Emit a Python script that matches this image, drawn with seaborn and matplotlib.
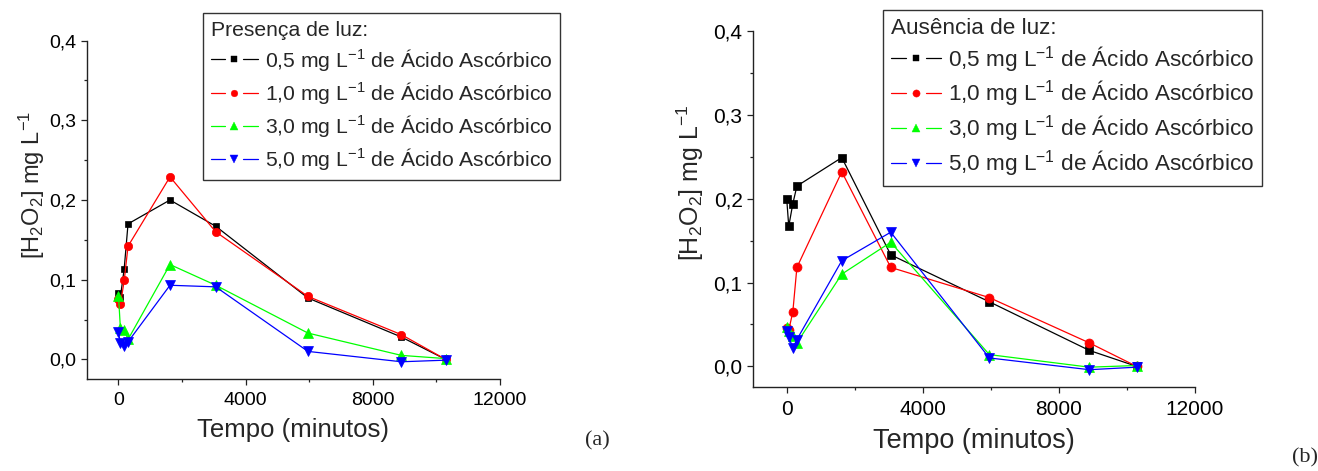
import matplotlib
matplotlib.use("Agg")
import matplotlib.pyplot as plt
import seaborn as sns
import numpy as np
from matplotlib.lines import Line2D
from matplotlib.legend_handler import HandlerLine2D
from matplotlib.ticker import FuncFormatter, MultipleLocator

# ---------------- data ----------------
tempo = [0, 60, 180, 300, 1620, 3060, 5960, 8900, 10290]

labels = [
    "0,5 mg L$^{-1}$ de Ácido Ascórbico",
    "1,0 mg L$^{-1}$ de Ácido Ascórbico",
    "3,0 mg L$^{-1}$ de Ácido Ascórbico",
    "5,0 mg L$^{-1}$ de Ácido Ascórbico",
]

luz_05 = [0.083, 0.078, 0.114, 0.170, 0.200, 0.167, 0.077, 0.028, 0.000]
luz_10 = [0.076, 0.069, 0.099, 0.142, 0.229, 0.160, 0.079, 0.031, 0.000]
luz_30 = [0.080, 0.039, 0.037, 0.025, 0.119, 0.093, 0.033, 0.005, 0.001]
luz_50 = [0.034, 0.020, 0.017, 0.022, 0.093, 0.091, 0.010, -0.003, -0.001]

escuro_05 = [0.200, 0.167, 0.194, 0.215, 0.249, 0.133, 0.077, 0.019, 0.000]
escuro_10 = [0.046, 0.043, 0.065, 0.118, 0.232, 0.118, 0.082, 0.028, 0.000]
escuro_30 = [0.047, 0.042, 0.036, 0.028, 0.110, 0.148, 0.014, -0.001, 0.001]
escuro_50 = [0.042, 0.035, 0.022, 0.032, 0.126, 0.160, 0.010, -0.004, -0.001]

titulo_a = "Presença de luz:"
titulo_b = "Ausência de luz:"

cores = ["#000000", "#FF0000", "#00FF00", "#0000FF"]
marcadores = ["s", "o", "^", "v"]
tam_marc = [5.0, 6.0, 6.5, 6.5]

# ---------------- style ----------------
sns.set_theme(style="ticks")
plt.rcParams["font.family"] = ["Liberation Sans", "DejaVu Sans"]
plt.rcParams["mathtext.fontset"] = "custom"
plt.rcParams["mathtext.rm"] = "Liberation Sans"
plt.rcParams["mathtext.it"] = "Liberation Sans:italic"
plt.rcParams["mathtext.bf"] = "Liberation Sans:bold"
plt.rcParams["axes.unicode_minus"] = False

W, H = 1318, 471
fig = plt.figure(figsize=(W / 100, H / 100), dpi=100)


def px_axes(x0, y0, x1, y1):
    return fig.add_axes([x0 / W, 1 - y1 / H, (x1 - x0) / W, (y1 - y0) / H])


class GapLineHandler(HandlerLine2D):
    def create_artists(self, legend, orig_handle, xdescent, ydescent,
                       width, height, fontsize, trans):
        yc = (height - ydescent) / 2.0
        x0 = -xdescent
        x1 = -xdescent + width
        xm = 0.5 * (x0 + x1)
        gap = 0.19 * width
        col = orig_handle.get_color()
        a = Line2D([x0, xm - gap], [yc, yc], color=col, lw=0.9)
        b = Line2D([xm + gap, x1], [yc, yc], color=col, lw=0.9)
        m = Line2D([xm], [yc], color=col, marker=orig_handle.get_marker(),
                   markersize=orig_handle.get_markersize() * 0.8,
                   markeredgecolor=col, markeredgewidth=0.3, linestyle="none")
        for art in (a, b, m):
            art.set_transform(trans)
        return [a, b, m]


def draw_panel(ax, series, titulo, scale, leg_xy, ylabel_xy, fs_tick, fs_lab,
               fs_ylab, fs_leg, xlabpad, lspace):
    handles = []
    for vals, lab, c, mk, ms in zip(series, labels, cores, marcadores, tam_marc):
        sns.lineplot(x=tempo, y=vals, ax=ax, color=c, marker=mk,
                     markersize=ms * scale, linewidth=0.9,
                     markeredgecolor=c, markeredgewidth=0.5,
                     sort=False, estimator=None, legend=False)
        ln = ax.lines[-1]
        ln.set_label(lab)
        handles.append(ln)

    ax.set_xlim(-1000, 12000)
    ax.set_ylim(-0.025, 0.4)
    ax.xaxis.set_major_locator(MultipleLocator(4000))
    ax.xaxis.set_minor_locator(MultipleLocator(2000))
    ax.yaxis.set_major_locator(MultipleLocator(0.1))
    ax.yaxis.set_minor_locator(MultipleLocator(0.05))
    ax.yaxis.set_major_formatter(FuncFormatter(lambda v, p: f"{v:.1f}".replace(".", ",")))
    ax.xaxis.set_major_formatter(FuncFormatter(lambda v, p: f"{int(round(v))}"))
    for s in ("top", "right"):
        ax.spines[s].set_visible(False)
    for s in ("left", "bottom"):
        ax.spines[s].set_linewidth(1.0)
        ax.spines[s].set_color("#222222")
    ax.tick_params(which="major", direction="out", length=4.3, width=0.9,
                   labelsize=fs_tick, colors="#222222", labelcolor="black", pad=3)
    ax.tick_params(axis="x", which="major", pad=5)
    ax.tick_params(which="minor", direction="out", length=2.4, width=0.9, colors="#222222")

    ax.set_xlabel("Tempo (minutos)", fontsize=fs_lab, labelpad=xlabpad)
    ax.set_ylabel("[H$_2$O$_2$] mg L$^{-1}$", fontsize=fs_ylab)
    ax.yaxis.set_label_coords(*ylabel_xy)

    leg = ax.legend(handles=handles, labels=labels, title=titulo,
                    loc="upper left",
                    bbox_to_anchor=(leg_xy[0] / W, 1 - leg_xy[1] / H),
                    bbox_transform=fig.transFigure, borderaxespad=0,
                    fontsize=fs_leg, title_fontsize=fs_leg, alignment="left",
                    handler_map={Line2D: GapLineHandler()},
                    handlelength=2.25, handletextpad=0.3, labelspacing=lspace,
                    borderpad=0.35, frameon=True, fancybox=False)
    fr = leg.get_frame()
    fr.set_edgecolor("#333333")
    fr.set_linewidth(1.0)
    fr.set_alpha(1)


ax1 = px_axes(86.7, 40.6, 500, 379.3)
draw_panel(ax1, [luz_05, luz_10, luz_30, luz_50], titulo_a, 1.0,
           (203.3, 13.3), (-0.095, 0.575), 14, 18.5, 17, 15.2, 6, 0.34)

ax2 = px_axes(752.7, 31, 1194.7, 387.3)
draw_panel(ax2, [escuro_05, escuro_10, escuro_30, escuro_50], titulo_b, 1.08,
           (882.7, 10), (-0.105, 0.573), 15, 19.5, 18, 16.2, 6, 0.22)

fig.text(597 / W, 1 - 441 / H, "(a)", family="Liberation Serif", fontsize=16,
         ha="center", va="center")
fig.text(1305 / W, 1 - 458 / H, "(b)", family="Liberation Serif", fontsize=16,
         ha="center", va="center")

fig.savefig("out.png", dpi=100, facecolor="white")
